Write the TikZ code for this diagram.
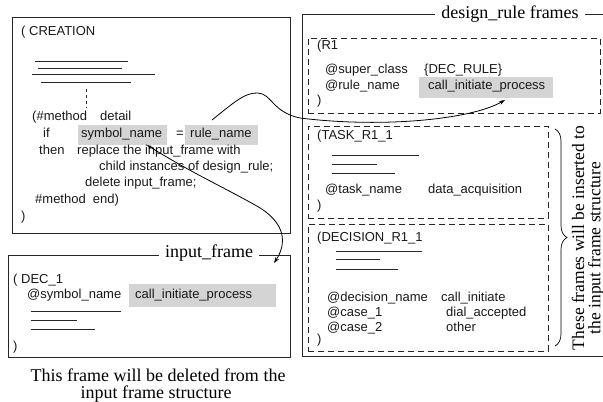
\documentclass[tikz,border=0pt]{standalone}
\usepackage{fontspec}
\setmainfont{Liberation Serif}
\setsansfont{Liberation Sans}
\usetikzlibrary{arrows.meta,decorations.pathreplacing}
\begin{document}
\begin{tikzpicture}[x=1pt,y=-1pt,
  frame/.style={draw=black!85, line width=0.8pt},
  dframe/.style={draw=black!85, line width=0.8pt, dash pattern=on 6pt off 4pt},
  txt/.style={font=\fontsize{13}{15}\sffamily, anchor=mid west, inner sep=0pt, text=black!90},
  lbl/.style={font=\fontsize{18}{20}\selectfont, fill=white, inner xsep=6pt, inner ysep=1pt},
  capt/.style={font=\fontsize{18}{20}\selectfont, inner sep=0pt},
  hlbox/.style={fill=black!17, inner sep=0pt, anchor=north west},
  bar/.style={draw=black!85, line width=0.8pt},
  conn/.style={draw=black, line width=0.8pt}
]
\useasboundingbox (0,0) rectangle (603,402);

% ---------------- CREATION box
\node[frame, anchor=north west, minimum width=278pt, minimum height=216pt, inner sep=0pt] (creation) at (12,17) {};
\node[txt] (cr1) at (21,33) {( CREATION};
\draw[bar] (35,61) -- (128,61);
\draw[bar] (38,68) -- (122,68);
\draw[bar] (32,74) -- (155,74);
\draw[bar] (41,82) -- (131,82);
\draw[black!85, line width=0.8pt, dash pattern=on 3pt off 3pt] (86,89) -- (86,108);
\node[hlbox, minimum width=89pt, minimum height=20pt] (hlsym) at (78,125) {};
\node[hlbox, minimum width=73pt, minimum height=20pt] (hlrule) at (185,125) {};
\node[txt] (m1) at (32,118) {(\#method};
\node[txt] (m1b) at (100,118) {detail};
\node[txt] (m2) at (43,135) {if};
\node[txt] (m2b) at (81,135) {symbol\_name};
\node[txt] (m2c) at (176,135) {=};
\node[txt] (m2d) at (190,135) {rule\_name};
\node[txt] (m3) at (39,152) {then};
\node[txt] (m3b) at (77,152) {replace the input\_frame with};
\node[txt] (m4) at (99,168) {child instances of design\_rule;};
\node[txt] (m5) at (85,184) {delete input\_frame;};
\node[txt] (m6) at (35,201) {\#method\ \ end)};
\node[txt] (m7) at (21,218) {)};

% ---------------- input frame
\node[frame, anchor=north west, minimum width=282pt, minimum height=102pt, inner sep=0pt] (input) at (8,255) {};
\node[lbl] (inlbl) at (209,253) {input\_frame};
\node[hlbox, minimum width=147pt, minimum height=23pt] (hlin) at (129,284) {};
\node[txt] (d1) at (13,281) {( DEC\_1};
\node[txt] (d2) at (27,296) {@symbol\_name};
\node[txt] (d2b) at (135,296) {call\_initiate\_process};
\draw[bar] (31,311) -- (121,311);
\draw[bar] (31,320) -- (77,320);
\draw[bar] (31,329) -- (95,329);
\node[txt] (d3) at (13,348) {)};

\node[capt] (cap1) at (158,375) {This frame will be deleted from the};
\node[capt] (cap2) at (156,394) {input frame structure};

% ---------------- design rule frames (right side runs off the page)
\coordinate (dtr) at (620,14);
\coordinate (dtl) at (302,14);
\coordinate (dbl) at (302,356);
\coordinate (dbr) at (620,356);
\draw[frame] (dtr) -- (dtl) -- (dbl) -- (dbr);
\node[lbl] (dlbl) at (510,14) {design\_rule frames};

% R1
\node[dframe, anchor=north west, minimum width=292pt, minimum height=75pt, inner sep=0pt] (r1) at (308,38) {};
\node[hlbox, minimum width=134pt, minimum height=21pt] (hlr1) at (419,77) {};
\node[txt] (r1a) at (317,47) {(R1};
\node[txt] (r1b) at (325,71) {@super\_class};
\node[txt] (r1c) at (424,71) {\{DEC\_RULE\}};
\node[txt] (r1d) at (325,87) {@rule\_name};
\node[txt] (r1e) at (428,87) {call\_initiate\_process};
\node[txt] (r1f) at (317,102) {)};

% TASK
\node[dframe, anchor=north west, minimum width=240pt, minimum height=92pt, inner sep=0pt] (task) at (308,126) {};
\node[txt] (t1) at (317,137) {(TASK\_R1\_1};
\draw[bar] (332,155) -- (419,155);
\draw[bar] (332,164) -- (377,164);
\draw[bar] (332,173) -- (395,173);
\node[txt] (t2) at (325,191) {@task\_name};
\node[txt] (t2b) at (428,191) {data\_acquisition};
\node[txt] (t3) at (317,207) {)};

% DECISION
\node[dframe, anchor=north west, minimum width=240pt, minimum height=127pt, inner sep=0pt] (dec) at (308,224) {};
\node[txt] (e1) at (317,239) {(DECISION\_R1\_1};
\draw[bar] (336,251) -- (422,251);
\draw[bar] (336,259) -- (380,259);
\draw[bar] (336,269) -- (398,269);
\node[txt] (e2) at (327,299) {@decision\_name};
\node[txt] (e2b) at (441,299) {call\_initiate};
\node[txt] (e3) at (327,314) {@case\_1};
\node[txt] (e3b) at (446,314) {dial\_accepted};
\node[txt] (e4) at (327,329) {@case\_2};
\node[txt] (e4b) at (446,329) {other};
\node[txt] (e5) at (317,341) {)};

% brace and rotated text
\coordinate (brtop) at (555,129);
\coordinate (brbot) at (555,346);
\draw[black, line width=0.7pt, decorate, decoration={brace, amplitude=12pt}] (brtop) -- (brbot);
\node[capt, font=\fontsize{17.5}{20}\selectfont, rotate=90] (ins1) at (578,238) {These frames will be inserted to};
\node[capt, font=\fontsize{17.5}{20}\selectfont, rotate=90] (ins2) at (596,248) {the input frame structure};

% connectors
\coordinate (c1s) at (212,120);
\coordinate (c1e) at (505,100);
\draw[conn, -{Stealth[length=6pt,width=4pt]}] (c1s) .. controls (232,104) and (245,92) .. (258,93)
  .. controls (272,94) and (272,112) .. (300,118)
  .. controls (380,128) and (470,120) .. (c1e);
\coordinate (c2s) at (147,145);
\coordinate (c2e) at (274,263);
\draw[conn, {Stealth[length=5pt,width=3.5pt]}-{Stealth[length=6pt,width=4pt]}] (c2s) .. controls (190,172) and (225,188) .. (255,205)
  .. controls (288,223) and (286,245) .. (c2e);
\end{tikzpicture}
\end{document}
